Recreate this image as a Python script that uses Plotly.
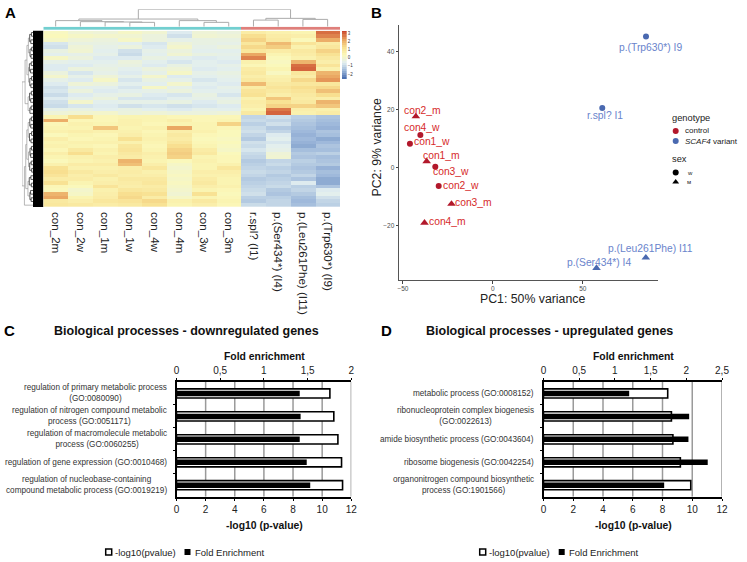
import plotly.graph_objects as go

W, H = 747, 562

# ---------- Panel A ----------
samples = ["con_2m", "con_2w", "con_1m", "con_1w", "con_4w", "con_4m", "con_3w", "con_3m",
           "r.spl? (I1)", "p.(Ser434*) (I4)", "p.(Leu261Phe) (I11)", "p.(Trp630*) (I9)"]
sample_group = [0, 0, 0, 0, 0, 0, 0, 0, 1, 1, 1, 1]
# z-scores x10, one row per gene cluster, columns in the order of `samples`
expr_tenths = [
    [2, -1, -2, 1, -1, -7, -2, -3, 8, 6, 5, 28],
    [3, 1, 0, -1, -3, -9, -1, -2, 13, 8, 7, 26],
    [1, -2, -3, 1, -3, -5, -4, -4, 15, 9, 3, 21],
    [-8, -4, -4, -6, -8, -2, -4, -5, 10, 19, 11, 8],
    [-9, -2, -5, -3, -7, 0, -5, -3, 14, 16, 6, 10],
    [-4, -1, -6, -9, -5, -3, -6, -6, 10, 8, 9, 15],
    [-6, -5, -5, -10, -6, -1, -4, -5, 22, 5, 8, 12],
    [1, -3, -7, -7, -4, -6, -7, -6, 26, 3, 6, 9],
    [-5, -6, -6, -3, -6, -8, -6, -7, 6, 2, 20, 7],
    [-7, -7, -5, -4, -7, -4, -6, -5, 4, 3, 28, 11],
    [-7, -3, -4, -6, -3, -2, -7, -6, 8, 5, 29, 6],
    [-3, -8, -5, -7, -5, 1, -5, -4, 9, 2, 10, 20],
    [0, -5, -2, -5, 0, -7, -6, -5, 7, 6, 8, 22],
    [-5, -7, 1, -8, -4, -5, -8, -6, 9, 7, 14, 24],
    [-7, -2, -3, -6, -6, 0, -6, -7, 19, 9, 10, 10],
    [-9, -6, -6, -8, 1, -5, -7, -5, 8, 11, 13, 14],
    [-8, -3, -7, -6, -5, -3, -6, -6, 11, 9, 11, 18],
    [-10, -7, -5, -4, -7, -8, -4, -8, 12, 7, 9, 13],
    [-7, -5, -3, -8, -8, -6, -5, -5, 6, 17, 8, 7],
    [-9, 0, -6, -5, -5, -4, -7, -4, 8, 12, 9, 20],
    [-10, -8, -7, -9, -8, -9, -8, -7, 7, 15, 15, 17],
    [-5, -4, -6, -4, -6, -7, -5, -6, 5, 27, 7, 6],
    [-2, -1, 0, -3, -2, -3, -3, -2, 9, 29, 6, 8],
    [5, 13, 4, 5, 5, 4, 4, 4, -11, -9, -12, -14],
    [21, 4, 4, 6, 5, 7, 4, 5, -10, -11, -13, -15],
    [4, 6, 5, 6, 4, 5, 5, 15, -12, -9, -14, -16],
    [5, 5, 17, 5, 6, 22, 5, 4, -10, -13, -15, -17],
    [6, 7, 6, 6, 4, 7, 6, 3, -9, -11, -16, -14],
    [3, 5, 4, 7, 5, 9, 4, 3, -11, -7, -17, -15],
    [7, 4, 5, 12, 6, 8, 3, 2, -13, -6, -16, -18],
    [5, 6, 6, 6, 5, 10, 4, 3, -9, -8, -17, -16],
    [6, 5, 4, 10, 4, 13, 5, 2, -10, -6, -18, -14],
    [4, 9, 6, 11, 5, 15, 8, 1, -8, -5, -15, -15],
    [7, 13, 5, 9, 7, 16, 9, 3, -10, -2, -13, -12],
    [5, 6, 7, 8, 6, 15, 5, 4, -11, -1, -14, -15],
    [3, 5, 6, 20, 5, 3, 6, 4, -13, -11, -12, -14],
    [6, 8, 8, 18, 7, 1, 5, 6, -12, -10, -13, -13],
    [12, 6, 6, 7, 10, 0, 5, 10, -11, -12, -14, -17],
    [13, 9, 7, 8, 6, 1, 7, 7, -10, -11, -13, -15],
    [11, 7, 9, 7, 7, 2, 6, 6, -11, -13, -11, -16],
    [8, 8, 6, 9, 9, 1, 8, 5, -13, -12, -14, -18],
    [12, 5, 7, 8, 10, 2, 9, 5, -12, -11, -7, -18],
    [4, 3, 11, 7, 8, 1, 7, 6, -11, -10, -12, -14],
    [3, 0, 6, 10, 9, 0, 5, 4, -10, -13, -11, -7],
    [20, 1, 7, 13, 12, -1, 12, 3, -9, -14, -13, -6],
    [22, 5, 8, 14, 8, 1, 5, 4, -12, -12, -15, -9],
    [9, 7, 10, 11, 14, 6, 9, 5, -13, -11, -16, -11],
    [10, 9, 8, 9, 12, 5, 7, 4, -10, -11, -15, -12],
]
heat_colors = ["#4A6FB0", "#9DB8DA", "#E2EEF0", "#FBF8BA", "#F8DF90", "#E9A35F", "#C8402A"]
scale_levels = [-2.55, -2.3, -2.05, -1.8, -1.55, -1.3, -1.05, -0.8, -0.55, -0.3, -0.05, 0.2,
                0.45, 0.7, 0.95, 1.2, 1.45, 1.7, 1.95, 2.2, 2.45, 2.7, 2.95, 3.2]
scale_ticks = [3, 2, 1, 0, -1, -2]

# linkage tables: (child a, child b, merge height); new nodes are numbered after the leaves
col_linkage = [(3, 4, .25), (2, 12, .27), (1, 13, .29), (0, 14, .35), (6, 7, .25), (5, 16, .35),
               (15, 17, .44), (8, 9, .38), (10, 11, .42), (19, 20, .48), (18, 21, 1.0)]
row_linkage = [
    (0, 1, .14), (2, 3, .2), (4, 5, .12), (6, 7, .18), (8, 9, .16), (10, 11, .22), (12, 13, .13),
    (14, 15, .19), (16, 17, .15), (18, 19, .21), (20, 21, .17),
    (48, 49, .3), (50, 51, .27), (52, 53, .33), (54, 55, .29), (56, 57, .31), (58, 22, .28),
    (59, 60, .42), (61, 62, .4), (63, 64, .45), (65, 66, .55), (68, 67, .72),
    (23, 24, .15), (25, 26, .2), (27, 28, .13), (29, 30, .18), (31, 32, .14), (33, 34, .21),
    (35, 36, .16), (37, 38, .12), (39, 40, .19), (41, 42, .15), (43, 44, .22), (45, 46, .17),
    (70, 71, .29), (72, 73, .32), (74, 75, .27), (76, 77, .3), (78, 79, .34), (80, 81, .28),
    (82, 83, .44), (84, 85, .41), (86, 87, .46), (88, 89, .56), (91, 90, .66), (92, 47, .78),
    (69, 93, 1.0),
]

# ---------- Panel B ----------
pca_labels = ["con2_m", "con4_w", "con1_w", "con1_m", "con3_w", "con2_w", "con3_m", "con4_m",
              "p.(Trp630*) I9", "r.spl? I1", "p.(Leu261Phe) I11", "p.(Ser434*) I4"]
pc1 = [-42.8, -40.3, -46.1, -36.8, -32.0, -30.1, -23.0, -38.0, 85.1, 60.8, 85.0, 57.6]
pc2 = [17.7, 11.3, 8.3, 2.2, 0.3, -6.3, -12.5, -19.0, 45.2, 20.6, -31.0, -34.6]
pca_group = ["control"] * 8 + ["variant"] * 4
pca_sex = ["m", "w", "w", "m", "w", "w", "m", "m", "w", "w", "m", "m"]
label_pc1 = [-39.1, -39.4, -33.7, -28.7, -23.5, -17.9, -10.5, -25.3, 87.5, 62.4, 87.5, 59.0]
label_pc2 = [19.9, 13.7, 8.9, 4.2, -1.4, -6.2, -12.0, -18.6, 41.6, 18.0, -28.0, -32.8]

# ---------- Panels C, D ----------
down_terms = ["regulation of primary metabolic process<br>(GO:0080090)",
              "regulation of nitrogen compound metabolic<br>process (GO:0051171)",
              "regulation of macromolecule metabolic<br>process (GO:0060255)",
              "regulation of gene expression (GO:0010468)",
              "regulation of nucleobase-containing<br>compound metabolic process (GO:0019219)"]
down_logp = [10.53, 10.8, 11.08, 11.33, 11.4]
down_fold = [1.41, 1.42, 1.41, 1.49, 1.53]
up_terms = ["metabolic process (GO:0008152)",
            "ribonucleoprotein complex biogenesis<br>(GO:0022613)",
            "amide biosynthetic process (GO:0043604)",
            "ribosome biogenesis (GO:0042254)",
            "organonitrogen compound biosynthetic<br>process (GO:1901566)"]
up_logp = [8.35, 8.6, 8.7, 9.2, 9.9]
up_fold = [1.2, 2.04, 2.03, 2.3, 1.69]
logp_ticks = [0, 2, 4, 6, 8, 10, 12]


def px_x(a, b):
    return [a / W, b / W]


def px_y(top, bottom):
    return [1 - bottom / H, 1 - top / H]


FONT = "Liberation Sans"
fig = go.Figure()


def link_paths(linkage, n_leaves, horizontal, max_h=None):
    pos = {i: (float(i), 0.0) for i in range(n_leaves)}
    a_vals, b_vals = [], []
    for k, (l, r, h) in enumerate(linkage):
        if max_h is not None and not (max_h[0] <= h < max_h[1]):
            pos[n_leaves + k] = ((pos[l][0] + pos[r][0]) / 2, h)
            continue
        a_vals += [pos[l][0], pos[l][0], pos[r][0], pos[r][0], None]
        b_vals += [pos[l][1], h, h, pos[r][1], None]
        pos[n_leaves + k] = ((pos[l][0] + pos[r][0]) / 2, h)
    return (b_vals, a_vals) if horizontal else (a_vals, b_vals)


HEAT_SCALE = [[i / 6, c] for i, c in enumerate(heat_colors)]
z = [[v / 10 for v in row] for row in expr_tenths]
fig.add_trace(go.Heatmap(
    z=z, x=list(range(12)), y=list(range(len(z))), xaxis="x", yaxis="y",
    zmin=-2.6, zmax=3.25, hoverinfo="skip", showscale=False, colorscale=HEAT_SCALE))
fig.add_trace(go.Heatmap(
    z=[[v] for v in scale_levels], y=scale_levels, x=[0], xaxis="x11", yaxis="y11",
    zmin=-2.6, zmax=3.25, hoverinfo="skip", showscale=False, colorscale=HEAT_SCALE))
fig.add_trace(go.Heatmap(
    z=[sample_group], x=list(range(12)), xaxis="x2", yaxis="y2", zmin=0, zmax=1, showscale=False,
    hoverinfo="skip", colorscale=[[0, "#72CFD0"], [1, "#DF7F7B"]]))
tx, ty = link_paths(col_linkage, 12, False)
fig.add_trace(go.Scatter(x=tx, y=ty, xaxis="x3", yaxis="y3", mode="lines", showlegend=False,
                         line=dict(color="#ababab", width=1)))
lx, ly = link_paths(row_linkage, 48, True, (0.4, 2))
fig.add_trace(go.Scatter(x=lx, y=ly, xaxis="x4", yaxis="y4", mode="lines", showlegend=False,
                         line=dict(color="#9a9a9a", width=0.7)))
lx, ly = link_paths(row_linkage, 48, True, (0, 0.4))
fig.add_trace(go.Scatter(x=lx, y=ly, xaxis="x4", yaxis="y4", mode="lines", showlegend=False,
                         line=dict(color="#333333", width=0.8)))

# PCA points
RED, BLUE = "#B2182B", "#4A69B0"
for g, col in (("control", RED), ("variant", BLUE)):
    for s, sym, size in (("w", "circle", 6), ("m", "triangle-up", 7.5)):
        idx = [i for i in range(12) if pca_group[i] == g and pca_sex[i] == s]
        fig.add_trace(go.Scatter(x=[pc1[i] for i in idx], y=[pc2[i] for i in idx], xaxis="x5", yaxis="y5",
                                 mode="markers", showlegend=False,
                                 marker=dict(color=col, symbol=sym, size=size, line=dict(width=0))))


# bars
def bars(terms, logp, fold, xa, xb, ya):
    ypos = list(range(len(terms)))
    fig.add_trace(go.Bar(y=ypos, x=logp, orientation="h", xaxis=xa, yaxis=ya, width=0.4, showlegend=False,
                         marker=dict(color="white", line=dict(color="black", width=1.6))))
    fig.add_trace(go.Bar(y=ypos, x=fold, orientation="h", xaxis=xb, yaxis=ya, width=0.24, showlegend=False,
                         marker=dict(color="black", line=dict(width=0))))


bars(down_terms, down_logp, down_fold, "x6", "x7", "y6")
bars(up_terms, up_logp, up_fold, "x8", "x9", "y8")

# legend glyphs on small page-scaled helper axes that do not overlap the plots
pca_legend_y = [131, 141, 172.5, 182]
pca_legend_col = [RED, BLUE, "black", "black"]
pca_legend_sym = ["circle", "circle", "circle", "triangle-up"]
fig.add_trace(go.Scatter(x=[675.7] * 4, y=pca_legend_y, xaxis="x12", yaxis="y12", mode="markers", showlegend=False,
                         marker=dict(color=pca_legend_col, symbol=pca_legend_sym, size=6, line=dict(width=0))))
bar_legend_x = [108.7, 187.5, 482.7, 561.7]
bar_legend_col = ["white", "black", "white", "black"]
fig.add_trace(go.Scatter(x=bar_legend_x, y=[552] * 4, xaxis="x10", yaxis="y10", mode="markers", showlegend=False,
                         marker=dict(color=bar_legend_col, symbol="square", size=6,
                                     line=dict(color="black", width=[1.5, 0, 1.5, 0]))))

ann = []


def text(x, y, s, size, color="#222", bold=False, anchor="center", angle=0, italic=False, xref="paper", yref="paper", align="center", yanchor="middle"):
    if bold:
        s = f"<b>{s}</b>"
    ann.append(dict(x=x / W if xref == "paper" else x, y=1 - y / H if yref == "paper" else y,
                    xref=xref, yref=yref, text=s, showarrow=False, xanchor=anchor, yanchor=yanchor, textangle=angle,
                    align=align, font=dict(size=size, family=FONT, color=color)))


for s, x, y in (("A", 10, 12), ("B", 376, 12), ("C", 9, 330), ("D", 386, 330)):
    text(x, y, s, 15, color="black", bold=True)

for lab, xv, yv, g in zip(pca_labels, label_pc1, label_pc2, pca_group):
    text(xv, yv, lab, 10.3, color="#D62A2A" if g == "control" else "#6A84CC", xref="x5", yref="y5")
text(532, 299, "PC1: 50% variance", 12.3)
text(376.5, 147, "PC2: 9% variance", 12.3, angle=-90)
text(670, 118, "genotype", 9.3, anchor="left")
text(683, 131, "control", 8, anchor="left")
text(683, 141, "<i>SCAF4</i> variant", 8, anchor="left")
text(670, 159, "sex", 9.3, anchor="left")
text(685, 172.5, "w", 6, anchor="left")
text(685, 182, "м", 6, anchor="left")

text(186, 331, "Biological processes - downregulated genes", 12.5, color="#111", bold=True)
text(549, 331, "Biological processes - upregulated genes", 12.5, color="#111", bold=True)
text(264, 356, "Fold enrichment", 10.4, color="#111", bold=True)
text(633, 356, "Fold enrichment", 10.4, color="#111", bold=True)
text(264, 525, "-log10 (p-value)", 10.4, color="#111", bold=True)
text(633, 525, "-log10 (p-value)", 10.4, color="#111", bold=True)
text(113, 552, "-log10(pvalue)", 9.5, anchor="left")
text(193, 552, "Fold Enrichment", 9.5, anchor="left")
text(487, 552, "-log10(pvalue)", 9.5, anchor="left")
text(567, 552, "Fold Enrichment", 9.5, anchor="left")
for i, t in enumerate(down_terms):
    text(169, i, t, 8.2, anchor="right", yref="y6", color="#333")
for i, t in enumerate(up_terms):
    text(536, i, t, 8.2, anchor="right", yref="y8", color="#333")


def hidden(**k):
    return dict(visible=False, **k)


def x_bar(dom, anchor, rng, dtick_vals, labels, side, overlay=None):
    d = dict(domain=dom, anchor=anchor, range=rng, tickmode="array", tickvals=dtick_vals, ticktext=labels,
             side=side, ticks="outside", ticklen=2.5, tickwidth=1.3, tickcolor="black", showline=True,
             linecolor="black", linewidth=1.6, showgrid=False, zeroline=False,
             tickfont=dict(size=10, family=FONT, color="#222"))
    if overlay:
        d["overlaying"] = overlay
    return d


def y_bar(dom, anchor):
    return dict(domain=dom, anchor=anchor, range=[4.5, -0.5], showline=True, linecolor="black", linewidth=1.6,
                showticklabels=False, tickmode="array", tickvals=[], zeroline=False, showgrid=False, ticks="",
                minor=dict(tickmode="array", tickvals=[0.5, 1.5, 2.5, 3.5], ticks="outside", ticklen=2,
                           tickcolor="black", tickwidth=1.2, showgrid=False))


grid_shapes = [dict(type="line", xref=xr, yref=yr, x0=v, x1=v, y0=-0.5, y1=4.5, layer="below",
                    line=dict(color="#9a9a9a", width=1.5))
               for xr, yr in (("x6", "y6"), ("x8", "y8")) for v in logp_ticks[1:]]

heat_dom_x = px_x(43.3, 340)
tick_labels = [str(v) for v in logp_ticks]
fig.update_layout(
    width=W, height=H, margin=dict(l=0, r=0, t=0, b=0, autoexpand=False), paper_bgcolor="white",
    plot_bgcolor="rgba(0,0,0,0)",
    autosize=False, barmode="overlay", showlegend=False, annotations=ann,
    font=dict(family=FONT),
    xaxis=dict(domain=heat_dom_x, anchor="y", range=[-0.5, 11.5], tickmode="array", tickvals=list(range(12)),
               ticktext=samples, tickangle=90, ticks="", showgrid=False, zeroline=False, showline=False,
               ticklabelstandoff=4, tickfont=dict(size=11.6, family=FONT, color="#222")),
    yaxis=dict(domain=px_y(30.7, 207), anchor="x", range=[47.5, -0.5], visible=False),
    xaxis2=hidden(domain=heat_dom_x, anchor="y2", range=[-0.5, 11.5]),
    yaxis2=hidden(domain=px_y(26.7, 30), anchor="x2", range=[-0.5, 0.5]),
    xaxis3=hidden(domain=heat_dom_x, anchor="y3", range=[-0.5, 11.5]),
    yaxis3=hidden(domain=px_y(9.3, 26.7), anchor="x3", range=[0, 1]),
    xaxis4=hidden(domain=px_x(22, 33), anchor="y4", range=[1, 0]),
    yaxis4=hidden(domain=px_y(30.7, 207), anchor="x4", range=[47.5, -0.5]),
    xaxis5=dict(domain=px_x(399.3, 657.7), anchor="y5", range=[-52, 91.6], tickvals=[-50, 0, 50], ticks="outside",
                ticklen=2.5, tickcolor="#444", tickwidth=0.8, showline=True, linecolor="#555", linewidth=1.3,
                showgrid=False, zeroline=False, tickfont=dict(size=6.5, family=FONT, color="#4d4d4d")),
    yaxis5=dict(domain=px_y(25, 280), anchor="x5", range=[-38.7, 49.2], tickvals=[-20, 0, 20, 40], ticks="outside",
                ticklen=2.5, tickcolor="#444", tickwidth=0.8, showline=True, linecolor="#555", linewidth=1.3,
                showgrid=False, zeroline=False, tickfont=dict(size=6.5, family=FONT, color="#4d4d4d")),
    xaxis6=x_bar(px_x(176.5, 351.3), "y6", [0, 12], logp_ticks, tick_labels, "bottom"),
    xaxis7=x_bar(px_x(176.5, 351.3), "y6", [0, 2], [0, .5, 1, 1.5, 2], ["0", "0,5", "1", "1,5", "2"], "top", overlay="x6"),
    yaxis6=y_bar(px_y(382, 496.7), "x6"),
    xaxis8=x_bar(px_x(543.5, 722), "y8", [0, 12], logp_ticks, tick_labels, "bottom"),
    xaxis9=x_bar(px_x(543.5, 722), "y8", [0, 2.5], [0, .5, 1, 1.5, 2, 2.5], ["0", "0,5", "1", "1,5", "2", "2,5"], "top", overlay="x8"),
    yaxis8=y_bar(px_y(382, 496.7), "x8"),
    xaxis10=hidden(domain=[0, 1], anchor="y10", range=[0, W]),
    yaxis10=hidden(domain=px_y(542, 562), anchor="x10", range=[562, 542]),
    xaxis11=hidden(domain=px_x(342, 346.7), anchor="y11", range=[-0.5, 0.5]),
    yaxis11=dict(domain=px_y(31, 79), anchor="x11", side="right", range=[-2.6, 3.25], tickmode="array",
                 tickvals=scale_ticks, ticks="", showgrid=False, zeroline=False, showline=False,
                 tickfont=dict(size=4.5, family=FONT, color="#333")),
    xaxis12=hidden(domain=px_x(665, 690), anchor="y12", range=[665, 690]),
    yaxis12=hidden(domain=px_y(120, 190), anchor="x12", range=[190, 120]),
    shapes=[dict(type="rect", xref="paper", yref="paper", x0=33 / W, x1=43.3 / W, y0=1 - 207 / H, y1=1 - 30.7 / H,
                 fillcolor="black", line=dict(width=0), layer="below")] + grid_shapes,
)

fig.write_html("out.html", post_script="document.body.style.margin='0';", config={"displayModeBar": False})
